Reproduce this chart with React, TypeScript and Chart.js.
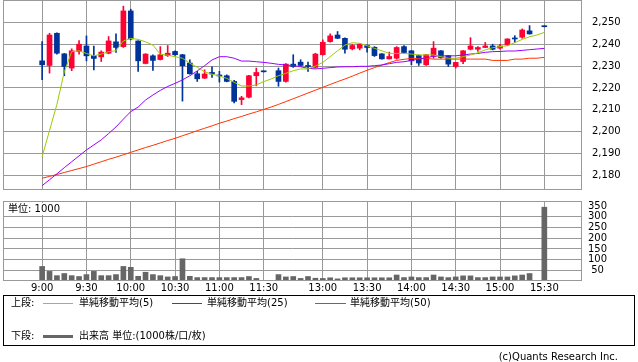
import React, { useEffect, useRef } from 'react';
import { Chart, registerables } from 'chart.js';

Chart.register(...registerables);

const FONT = "'DejaVu Sans', 'Noto Sans CJK JP', sans-serif";

// x positions are 5-minute slots: 0 = 9:00 ... 30 = 11:30, 31 = lunch gap, 32 = 12:30 ... 68 = 15:30
const timeTickSlots = [0, 6, 12, 18, 24, 30, 38, 44, 50, 56, 62, 68];
const timeTickLabels = ['9:00', '9:30', '10:00', '10:30', '11:00', '11:30', '13:00', '13:30', '14:00', '14:30', '15:00', '15:30'];
const priceTicks = [2180, 2190, 2200, 2210, 2220, 2230, 2240, 2250];
const volumeTicks = [50, 100, 150, 200, 250, 300, 350];

const openPrices: (number | null)[] = [
  2232.4, 2230.3, 2245.0, 2235.6, 2229.1, 2236.7, 2239.2, 2234.8, 2234.2, 2235.9,
  2241.1, 2238.9, 2255.2, 2241.5, 2231.2, 2234.7, 2233.0, 2234.8, 2236.7, 2235.2,
  2231.4, 2226.5, 2224.5, 2227.1, 2225.8, 2225.6, 2223.0, 2214.7, 2215.8, 2225.6,
  2227.7, null, 2227.9, 2223.0, 2230.9, 2231.8, 2230.3, 2229.4, 2235.2, 2241.2,
  2244.2, 2242.7, 2237.9, 2238.2, 2239.4, 2238.6, 2235.6, 2233.3, 2233.6, 2238.9,
  2237.0, 2234.8, 2230.6, 2234.4, 2237.0, 2234.8, 2229.8, 2232.1, 2237.7, 2237.7,
  2238.5, 2239.2, 2238.2, 2239.7, 2242.7, 2243.2, 2246.1, null, 2248.3,
];
const highPrices: (number | null)[] = [
  2241.2, 2245.0, 2245.2, 2235.8, 2237.9, 2241.7, 2243.8, 2239.1, 2237.0, 2243.5,
  2244.7, 2257.4, 2256.0, 2241.6, 2235.7, 2235.2, 2238.9, 2239.4, 2237.0, 2235.4,
  2232.9, 2227.6, 2228.3, 2229.7, 2227.6, 2226.0, 2223.5, 2216.2, 2225.8, 2229.1,
  2227.8, null, 2229.1, 2231.2, 2235.2, 2232.9, 2231.8, 2235.9, 2242.0, 2244.7,
  2245.8, 2242.9, 2240.0, 2240.2, 2239.7, 2238.9, 2235.7, 2236.4, 2238.9, 2239.4,
  2237.1, 2235.1, 2235.3, 2241.2, 2237.1, 2234.9, 2231.8, 2237.1, 2243.0, 2238.9,
  2240.8, 2240.0, 2240.0, 2242.5, 2243.9, 2247.0, 2248.5, null, 2248.4,
];
const lowPrices: (number | null)[] = [
  2223.8, 2226.8, 2235.5, 2225.6, 2227.9, 2235.5, 2232.4, 2228.3, 2232.1, 2235.6,
  2236.2, 2238.5, 2242.0, 2227.6, 2231.0, 2228.0, 2232.8, 2234.4, 2234.9, 2214.0,
  2226.3, 2223.0, 2224.3, 2224.8, 2222.7, 2222.8, 2213.2, 2212.4, 2215.5, 2221.0,
  2227.3, null, 2220.8, 2222.7, 2229.4, 2229.9, 2227.6, 2229.1, 2235.0, 2240.9,
  2242.5, 2235.9, 2237.4, 2237.4, 2236.4, 2234.4, 2233.2, 2233.2, 2233.2, 2235.9,
  2230.6, 2230.3, 2230.3, 2233.6, 2233.6, 2229.8, 2229.1, 2231.1, 2237.4, 2236.7,
  2238.4, 2237.4, 2237.7, 2239.4, 2240.9, 2242.7, 2244.6, null, 2247.9,
];
const closePrices: (number | null)[] = [
  2230.6, 2244.2, 2235.9, 2229.8, 2237.0, 2240.0, 2234.7, 2233.5, 2236.4, 2241.5,
  2238.5, 2255.2, 2242.4, 2232.4, 2235.5, 2232.6, 2235.2, 2235.9, 2235.2, 2230.2,
  2226.5, 2224.2, 2226.4, 2226.4, 2225.5, 2223.0, 2213.9, 2215.5, 2225.6, 2227.1,
  2227.4, null, 2223.0, 2230.9, 2229.8, 2230.3, 2229.8, 2235.5, 2240.9, 2243.8,
  2242.7, 2237.7, 2239.4, 2240.0, 2238.5, 2234.8, 2233.3, 2234.4, 2238.5, 2236.2,
  2232.4, 2231.4, 2235.2, 2238.2, 2233.9, 2230.9, 2231.7, 2237.0, 2239.2, 2238.5,
  2239.2, 2237.7, 2239.2, 2242.4, 2242.4, 2246.5, 2244.7, null, 2248.0,
];
const volumes: (number | null)[] = [
  68, 45, 25, 35, 25, 21, 30, 45, 25, 25,
  30, 68, 64, 22, 41, 30, 25, 19, 21, 104,
  22, 16, 16, 16, 16, 16, 16, 16, 21, 12,
  2, null, 30, 19, 21, 12, 21, 13, 12, 15,
  10, 15, 15, 15, 15, 15, 15, 15, 28, 16,
  19, 16, 16, 28, 19, 16, 19, 24, 24, 16,
  16, 19, 19, 19, 24, 28, 35, null, 345,
];
const ma5: number[] = [
  2188.6, 2200.6, 2212.5, 2227.4, 2236.6, 2237.0, 2235.8, 2234.7, 2235.5, 2236.6,
  2237.0, 2241.5, 2242.7, 2242.2, 2241.1, 2239.6, 2235.4, 2235.0, 2234.3, 2233.6,
  2231.3, 2229.5, 2227.4, 2226.3, 2225.5, 2224.4, 2222.6, 2220.9, 2220.9, 2221.4,
  2222.9, 2224.1, 2225.6, 2226.7, 2227.9, 2228.7, 2228.7, 2230.0, 2231.7, 2234.3,
  2237.0, 2239.6, 2240.7, 2240.4, 2239.3, 2238.1, 2237.0, 2235.8, 2235.8, 2235.8,
  2235.5, 2235.1, 2235.1, 2235.1, 2234.3, 2233.6, 2233.6, 2234.3, 2235.1, 2236.1,
  2237.4, 2238.4, 2238.9, 2239.3, 2240.7, 2242.2, 2243.4, 2244.2, 2245.4,
];
const ma25: number[] = [
  2175.4, 2178.1, 2180.8, 2183.6, 2186.3, 2189.0, 2191.7, 2194.0, 2196.3, 2199.2,
  2202.2, 2205.8, 2209.2, 2211.3, 2214.5, 2216.8, 2218.9, 2220.7, 2222.1, 2223.7,
  2225.6, 2227.8, 2230.2, 2232.8, 2234.3, 2234.3, 2233.6, 2232.3, 2232.3, 2232.0,
  2231.7, 2231.3, 2230.8, 2230.5, 2230.2, 2229.7, 2229.0, 2228.7, 2229.0, 2229.3,
  2229.6, 2229.7, 2229.7, 2229.9, 2229.9, 2230.2, 2230.5, 2231.1, 2231.7, 2232.0,
  2232.6, 2233.2, 2233.8, 2234.5, 2234.7, 2234.7, 2234.7, 2235.1, 2235.5, 2235.8,
  2236.3, 2236.6, 2236.7, 2236.9, 2236.9, 2237.2, 2237.5, 2237.8, 2238.1,
];
const ma50: number[] = [
  2178.8, 2179.6, 2180.5, 2181.4, 2182.3, 2183.2, 2184.1, 2185.2, 2186.3, 2187.4,
  2188.4, 2189.5, 2190.6, 2191.7, 2192.8, 2193.8, 2194.9, 2196.0, 2197.0, 2198.2,
  2199.3, 2200.5, 2201.6, 2202.7, 2203.9, 2204.9, 2206.0, 2207.0, 2208.1, 2209.1,
  2210.2, 2211.3, 2212.5, 2213.8, 2215.1, 2216.4, 2217.7, 2219.0, 2220.3, 2221.6,
  2222.9, 2224.1, 2225.4, 2226.8, 2228.1, 2229.3, 2230.5, 2231.6, 2232.6, 2233.1,
  2233.5, 2233.5, 2233.5, 2233.2, 2233.2, 2233.2, 2233.2, 2233.2, 2233.2, 2233.2,
  2233.2, 2232.6, 2232.6, 2232.6, 2233.2, 2233.2, 2233.6, 2233.6, 2234.0,
];

const UP = '#FF0033';
const DOWN = '#003399';
const GRID = '#999999';
const C_MA5 = '#99CC00';
const C_MA25 = '#9900FF';
const C_MA50 = '#FF3300';
const C_VOL = '#666666';

const X_MIN = -5.3;
const X_MAX = 73.1;

const framePlugin = {
  id: 'frame',
  afterDraw(chart: any) {
    const { ctx, chartArea } = chart;
    const { left, top, right, bottom } = chartArea;
    ctx.save();
    ctx.strokeStyle = GRID;
    ctx.lineWidth = 1;
    ctx.strokeRect(Math.round(left) + 0.5, Math.round(top) + 0.5, Math.round(right - left) - 1, Math.round(bottom - top) - 1);
    ctx.restore();
  },
};

export default function App() {
  const topRef = useRef<HTMLCanvasElement>(null);
  const volRef = useRef<HTMLCanvasElement>(null);

  useEffect(() => {
    Chart.defaults.font.family = FONT;
    Chart.defaults.font.size = 10;
    Chart.defaults.color = '#000';

    const slots = openPrices.map((_, i) => i).filter((i) => openPrices[i] !== null);
    const colorOf = (i: number) => ((closePrices[i] as number) >= (openPrices[i] as number) ? UP : DOWN);
    const candleColors = slots.map(colorOf);

    const xScaleBase = {
      type: 'linear' as const,
      min: X_MIN,
      max: X_MAX,
      offset: false,
      grid: { color: GRID, drawTicks: false, lineWidth: 1, offset: false },
      border: { display: false },
      afterBuildTicks: (s: any) => {
        s.ticks = timeTickSlots.map((v) => ({ value: v }));
      },
    };

    const top = new Chart(topRef.current as HTMLCanvasElement, {
      type: 'bar',
      data: {
        datasets: [
          {
            type: 'line',
            label: 'MA5',
            data: ma5.map((v, i) => ({ x: i, y: v })),
            borderColor: C_MA5,
            borderWidth: 1,
            pointRadius: 0,
            tension: 0,
            order: 0,
          } as any,
          {
            type: 'line',
            label: 'MA25',
            data: ma25.map((v, i) => ({ x: i, y: v })),
            borderColor: C_MA25,
            borderWidth: 1,
            pointRadius: 0,
            tension: 0,
            order: 0,
          } as any,
          {
            type: 'line',
            label: 'MA50',
            data: ma50.map((v, i) => ({ x: i, y: v })),
            borderColor: C_MA50,
            borderWidth: 1,
            pointRadius: 0,
            tension: 0,
            order: 0,
          } as any,
          {
            type: 'bar',
            label: 'wick',
            data: slots.map((i) => ({ x: i, y: [lowPrices[i], highPrices[i]] })),
            backgroundColor: candleColors,
            barThickness: 1,
            grouped: false,
            borderWidth: 0,
            order: 2,
          } as any,
          {
            type: 'bar',
            label: 'body',
            data: slots.map((i) => ({ x: i, y: [openPrices[i], closePrices[i]] })),
            backgroundColor: candleColors,
            barThickness: 5,
            minBarLength: 1,
            grouped: false,
            borderWidth: 0,
            order: 1,
          } as any,
        ],
      },
      options: {
        animation: false,
        responsive: false,
        events: [],
        layout: { padding: { left: 3, right: 0, top: 0, bottom: 1 } },
        plugins: { legend: { display: false }, tooltip: { enabled: false } },
        scales: {
          x: {
            ...xScaleBase,
            ticks: { display: false },
            afterFit: (s: any) => {
              s.height = 0;
            },
          },
          y: {
            type: 'linear',
            position: 'right',
            min: 2173.4,
            max: 2260.2,
            grid: { color: GRID, drawTicks: false },
            border: { display: false },
            ticks: {
              padding: 10,
              autoSkip: false,
              color: '#000',
              font: { family: FONT, size: 10 },
              callback: (v: any) => Number(v).toLocaleString('en-US'),
            },
            afterBuildTicks: (s: any) => {
              s.ticks = priceTicks.map((v) => ({ value: v }));
            },
            afterFit: (s: any) => {
              s.width = 56;
              s.paddingTop = 0;
              s.paddingBottom = 0;
            },
          },
        } as any,
      },
      plugins: [framePlugin],
    });

    const volSlots = volumes.map((_, i) => i).filter((i) => volumes[i] !== null);
    const vol = new Chart(volRef.current as HTMLCanvasElement, {
      type: 'bar',
      data: {
        datasets: [
          {
            label: 'volume',
            data: volSlots.map((i) => ({ x: i, y: volumes[i] })),
            backgroundColor: C_VOL,
            barThickness: 5,
            borderWidth: 0,
          } as any,
        ],
      },
      options: {
        animation: false,
        responsive: false,
        events: [],
        layout: { padding: { left: 3, right: 0, top: 1, bottom: 0 } },
        plugins: { legend: { display: false }, tooltip: { enabled: false } },
        scales: {
          x: {
            ...xScaleBase,
            ticks: {
              display: true,
              autoSkip: false,
              maxRotation: 0,
              minRotation: 0,
              padding: 1,
              color: '#000',
              font: { family: FONT, size: 10 },
              callback: (_v: any, idx: number) => timeTickLabels[idx],
            },
            afterFit: (s: any) => {
              s.height = 15;
              s.paddingLeft = 0;
              s.paddingRight = 0;
            },
          },
          y: {
            type: 'linear',
            position: 'right',
            min: 0,
            max: 374,
            grid: {
              drawTicks: false,
              color: (c: any) => (c.tick && c.tick.value === 350 ? 'rgba(0,0,0,0)' : GRID),
            },
            border: { display: false },
            ticks: {
              padding: 6,
              autoSkip: false,
              crossAlign: 'center',
              color: '#000',
              font: { family: FONT, size: 10 },
            },
            afterBuildTicks: (s: any) => {
              s.ticks = volumeTicks.map((v) => ({ value: v }));
            },
            afterFit: (s: any) => {
              s.width = 56;
              s.paddingTop = 0;
              s.paddingBottom = 0;
            },
          },
        } as any,
      },
      plugins: [framePlugin],
    });

    return () => {
      top.destroy();
      vol.destroy();
    };
  }, []);

  const abs = (l: number, t: number, extra: any = {}) => ({ position: 'absolute' as const, left: l, top: t, ...extra });
  const txt = { fontSize: 10, lineHeight: '12px', whiteSpace: 'nowrap' as const, fontFamily: FONT };

  return (
    <div style={{ position: 'absolute', left: 0, top: 0, width: 638, height: 362, background: '#fff', color: '#000', fontFamily: FONT, overflow: 'hidden' }}>
      <canvas ref={topRef} width={638} height={191} style={abs(0, 0, { width: 638, height: 191 })} />
      <canvas ref={volRef} width={638} height={96} style={abs(0, 200, { width: 638, height: 96 })} />
      <div style={abs(5, 203, { ...txt, background: '#fff', padding: '0 2px 0 3px', height: 12 })}>単位: 1000</div>

      <div style={abs(3, 295, { width: 632, height: 51, border: '1px solid #000', boxSizing: 'border-box' })} />
      <div style={abs(11, 297, txt)}>上段:</div>
      <div style={abs(43, 303, { width: 30, height: 1, background: C_MA5 })} />
      <div style={abs(79, 297, txt)}>単純移動平均(5)</div>
      <div style={abs(172, 303, { width: 30, height: 1, background: C_MA25 })} />
      <div style={abs(207, 297, txt)}>単純移動平均(25)</div>
      <div style={abs(315, 303, { width: 31, height: 1, background: C_MA50 })} />
      <div style={abs(350, 297, txt)}>単純移動平均(50)</div>

      <div style={abs(11, 330, txt)}>下段:</div>
      <div style={abs(43, 335, { width: 30, height: 3, background: C_VOL })} />
      <div style={abs(79, 330, txt)}>出来高 単位:(1000株/口/枚)</div>

      <div style={{ position: 'absolute', right: 20, top: 351, ...txt }}>(c)Quants Research Inc.</div>
    </div>
  );
}
